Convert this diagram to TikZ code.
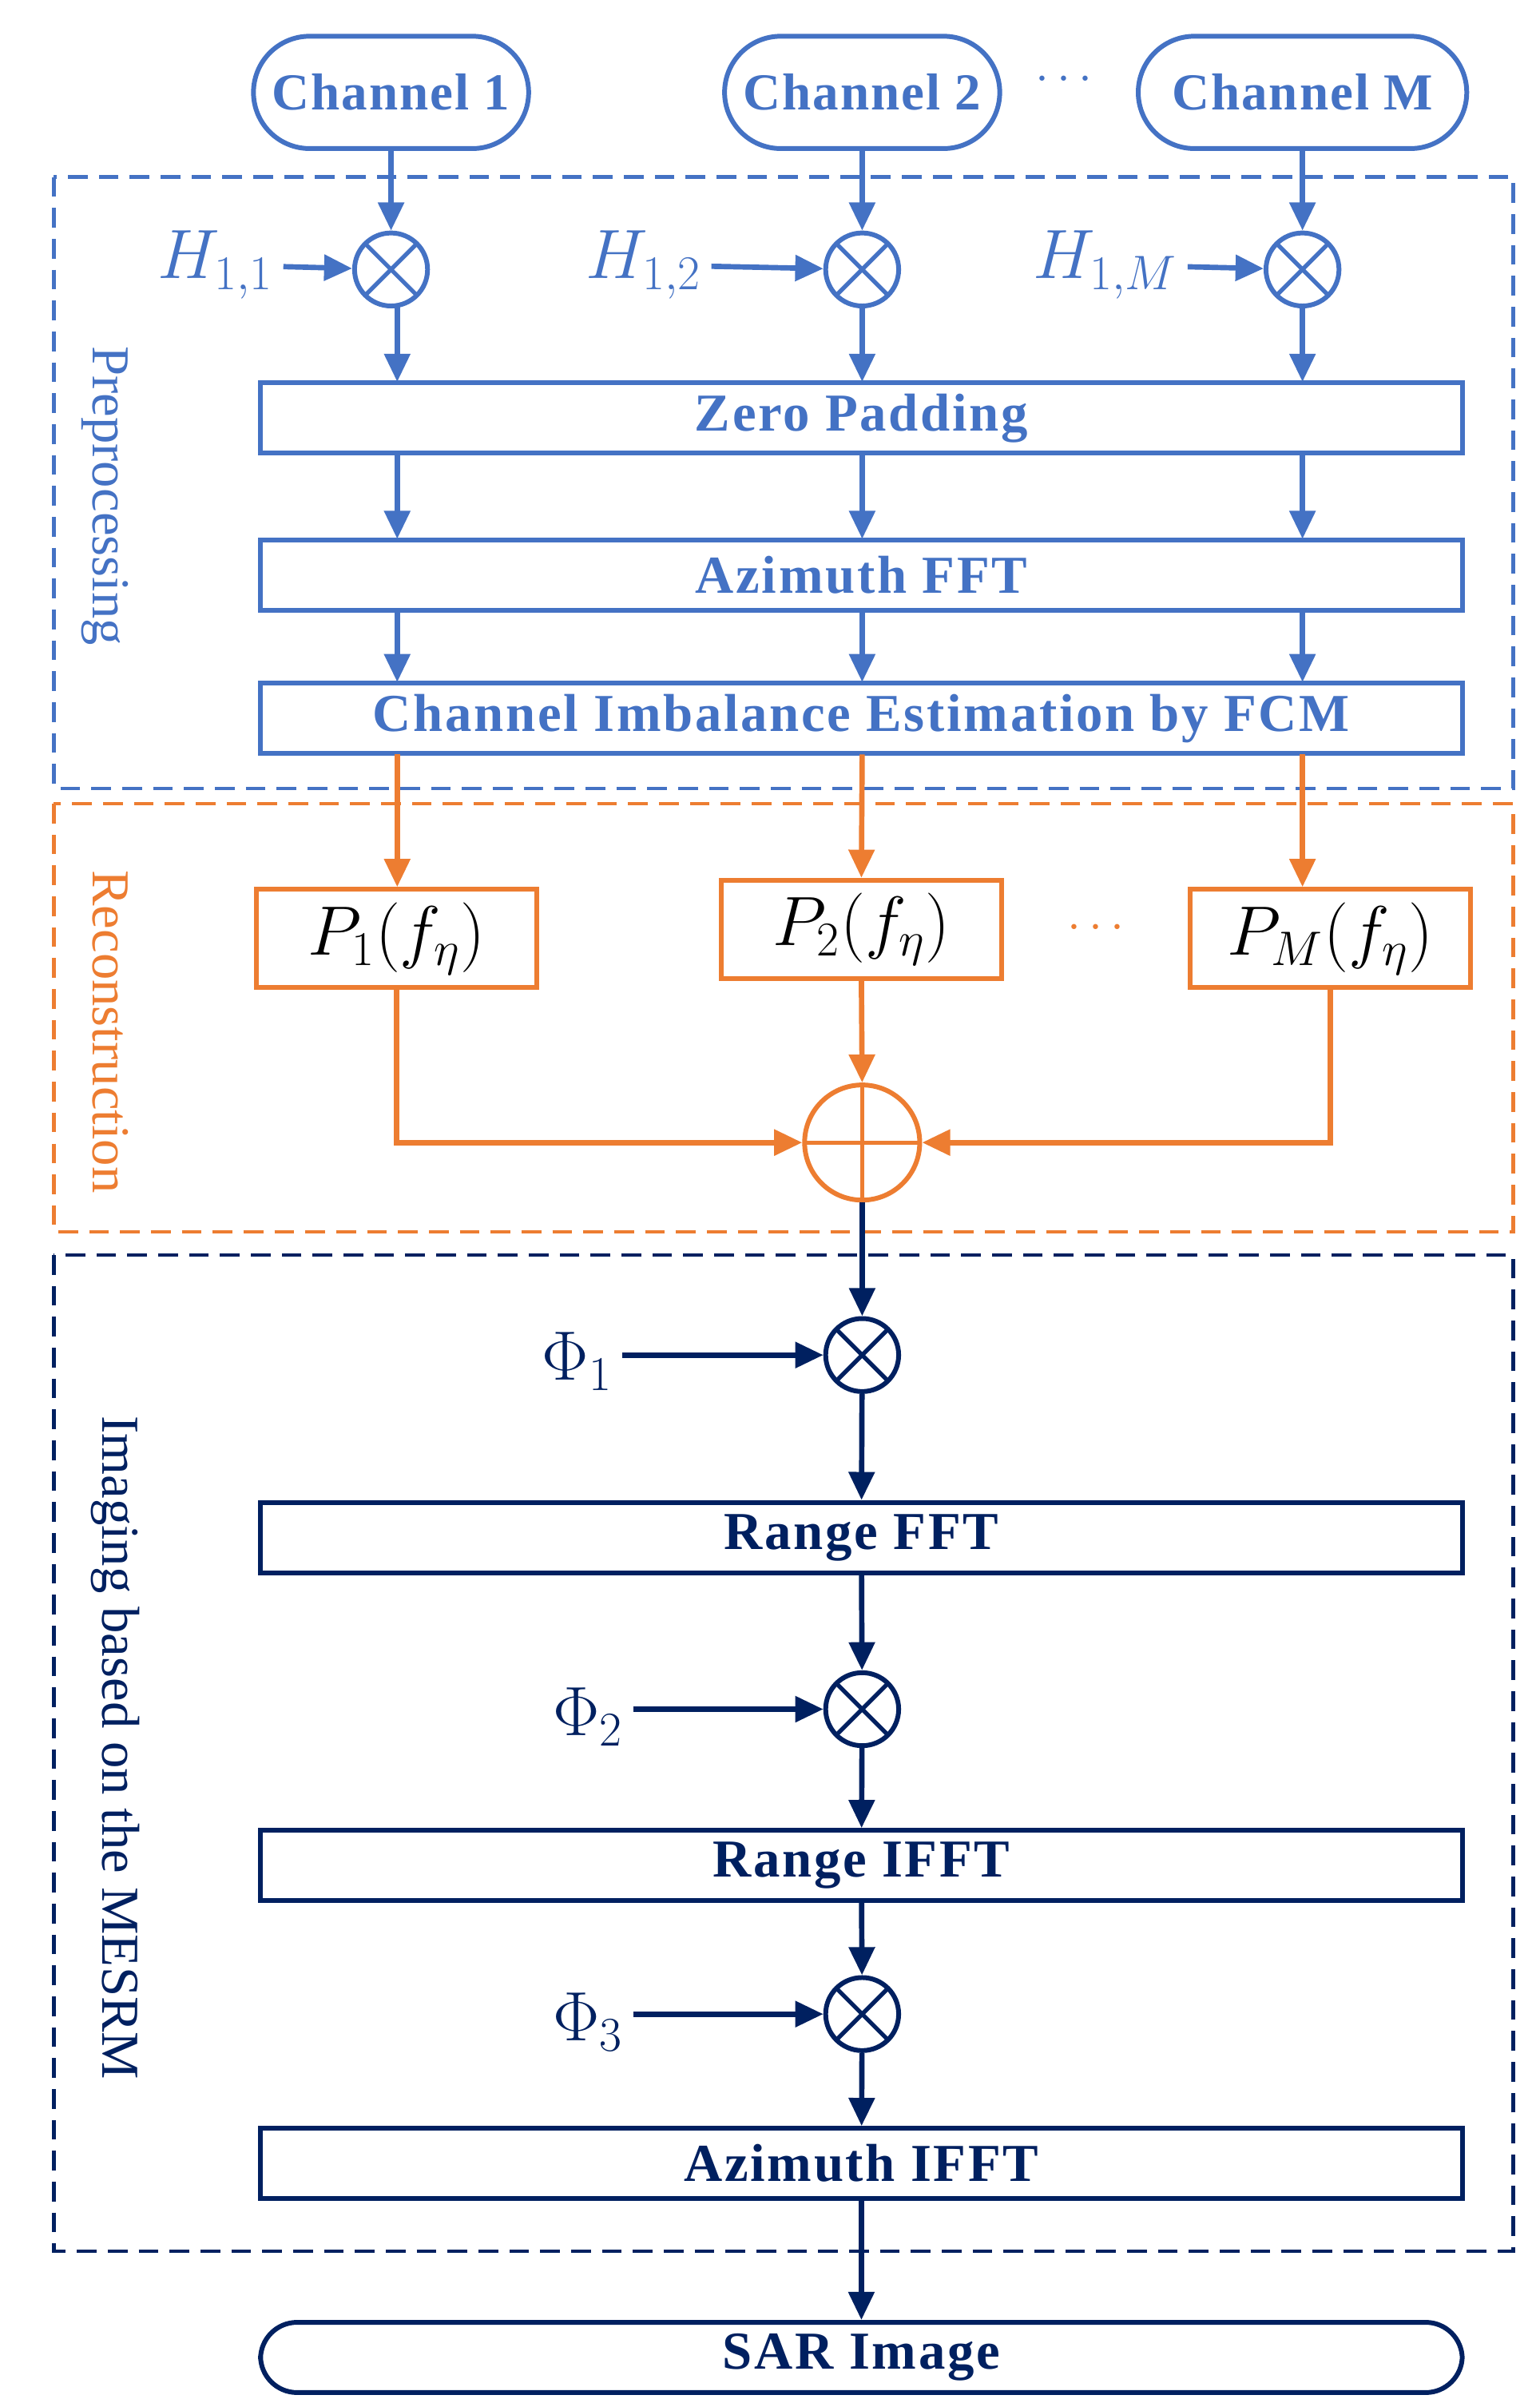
\documentclass[tikz,border=0pt]{standalone}
\usepackage{fontspec}
\setmainfont{Liberation Serif}
\usetikzlibrary{arrows.meta,calc}
\definecolor{cb}{RGB}{68,114,196}
\definecolor{co}{RGB}{237,125,49}
\definecolor{cn}{RGB}{0,32,96}
\begin{document}
\begin{tikzpicture}[x=0.01927cm,y=-0.01927cm,
  box/.style={draw,line width=1.7pt,minimum height=25pt,inner sep=0pt,font=\fontsize{19}{22}\selectfont\bfseries\addfontfeatures{LetterSpace=4}},
  chan/.style={draw,line width=1.7pt,rounded corners=20pt,minimum height=40pt,minimum width=98pt,font=\fontsize{18.5}{21}\selectfont\bfseries\addfontfeatures{LetterSpace=3}},
  mul/.style={draw,circle,line width=1.7pt,minimum size=26pt,inner sep=0pt,
    path picture={\draw[line width=1.5pt] (path picture bounding box.north west)--(path picture bounding box.south east) (path picture bounding box.north east)--(path picture bounding box.south west);}},
  arr/.style={line width=1.9pt,-{Triangle[length=10pt,width=9pt]}},
  region/.style={draw,dashed,line width=1.3pt,dash pattern=on 7pt off 4pt},
  side/.style={rotate=-90,font=\fontsize{19}{22}\selectfont},
  lab/.style={font=\fontsize{24}{28}\selectfont}]
\useasboundingbox (0,0) rectangle (1000,1558);
% regions
\draw[region,cb] (35,115) rectangle (983,512);
\draw[region,co] (35,522) rectangle (983,800);
\draw[region,cn] (35,815) rectangle (983,1462);
\node[side,cb] (sp) at (68,322) {Preprocessing};
\node[side,co] (sr) at (72,670) {Reconstruction};
\node[side,cn] (si) at (75,1135) {Imaging based on the MESRM};
% channels
\begin{scope}[cb]
\node[chan] (c1) at (254,60) {Channel 1};
\node[chan] (c2) at (560,60) {Channel 2};
\node[chan,minimum width=117pt] (cM) at (846,60) {Channel M};
\node[font=\fontsize{18}{20}\selectfont] (d1) at (691,52) {$\cdots$};
\node[mul] (m1) at (254,175) {};
\node[mul] (m2) at (560,175) {};
\node[mul] (mM) at (846,175) {};
\node[lab] (h1) at (140,172) {$H_{1,1}$};
\node[lab] (h2) at (418,172) {$H_{1,2}$};
\node[lab] (hM) at (718,172) {$H_{1,M}$};
\node[box,minimum width=428pt] (zp) at (559.5,271.5) {Zero Padding};
\node[box,minimum width=428pt] (af) at (559.5,373.5) {Azimuth FFT};
\node[box,minimum width=428pt] (ci) at (559.5,466.5) {Channel Imbalance Estimation by FCM};
\foreach \c/\m in {c1/m1,c2/m2,cM/mM} \draw[arr] (\c) -- (\m);
\foreach \h/\m in {h1/m1,h2/m2,hM/mM} \draw[arr] (\h) -- (\m);
\foreach \x in {258,560,846}{
  \draw[arr] (\x,175) ++(0,24) -- (\x,248);
  \draw[arr] (\x,295) -- (\x,350);
  \draw[arr] (\x,397) -- (\x,443);}
\end{scope}
% reconstruction
\begin{scope}[co]
\node[box,font=\fontsize{23}{26}\selectfont,text=black,minimum width=100pt,minimum height=35pt] (p1) at (257.5,609.5) {$P_1(f_\eta)$};
\node[box,font=\fontsize{23}{26}\selectfont,text=black,minimum width=100pt,minimum height=35pt] (p2) at (559.5,603.5) {$P_2(f_\eta)$};
\node[box,font=\fontsize{23}{26}\selectfont,text=black,minimum width=100pt,minimum height=35pt] (pM) at (864,609.5) {$P_M(f_\eta)$};
\node[font=\fontsize{18}{20}\selectfont] (d2) at (712,603) {$\cdots$};
\node[draw,circle,line width=1.7pt,minimum size=41pt,inner sep=0pt,
  path picture={\draw[line width=1.5pt] (path picture bounding box.north)--(path picture bounding box.south) (path picture bounding box.west)--(path picture bounding box.east);}] (sum) at (560,742) {};
\draw[arr] (258,490) -- (p1.north -| 258,0);
\draw[arr] (560,490) -- (p2.north);
\draw[arr] (846,490) -- (pM.north -| 846,0);
\draw[arr] (p2.south) -- (sum.north);
\draw[arr] (p1.south) |- (sum.west);
\draw[arr] (pM.south) |- (sum.east);
\end{scope}
% imaging
\begin{scope}[cn]
\node[mul] (f1) at (560,880) {};
\node[mul] (f2) at (560,1110) {};
\node[mul] (f3) at (560,1308) {};
\node[lab] (l1) at (375,884) {$\Phi_1$};
\node[lab] (l2) at (382,1115) {$\Phi_2$};
\node[lab] (l3) at (382,1313) {$\Phi_3$};
\node[box,minimum width=428pt] (rf) at (559.5,998.5) {Range FFT};
\node[box,minimum width=428pt] (ri) at (559.5,1211.5) {Range IFFT};
\node[box,minimum width=428pt] (ai) at (559.5,1405) {Azimuth IFFT};
\node[box,minimum width=428pt,rounded corners=13pt] (sar) at (559.5,1531) {SAR Image};
\draw[arr] (sum.south) -- (f1.north);
\draw[arr] (l1.east) ++(0,-4) -- (f1.west);
\draw[arr] (l2.east) ++(0,-5) -- (f2.west);
\draw[arr] (l3.east) ++(0,-5) -- (f3.west);
\draw[arr] (f1) -- (rf);
\draw[arr] (rf) -- (f2);
\draw[arr] (f2) -- (ri);
\draw[arr] (ri) -- (f3);
\draw[arr] (f3) -- (ai);
\draw[arr] (ai) -- (sar);
\end{scope}
\end{tikzpicture}
\end{document}
